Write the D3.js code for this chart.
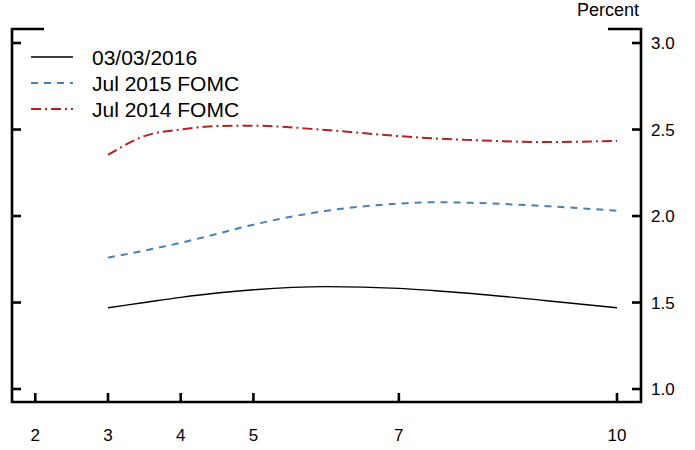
<!DOCTYPE html>
<html>
<head>
<meta charset="utf-8">
<script src="https://d3js.org/d3.v7.min.js"></script>
<style>
    body { margin: 0; background: #fff; }
    svg { font-family: "Liberation Sans", Arial, sans-serif; }
</style>
</head>
<body>
<svg id="chart"></svg>
<script>
// years ahead on the x axis
const years = [3, 3.5, 4, 4.5, 5, 6, 7, 7.5, 8, 9, 10];
const mar2016 = [1.47, 1.50, 1.53, 1.555, 1.574, 1.592, 1.582, 1.568, 1.552, 1.512, 1.47];
const jul2015 = [1.76, 1.80, 1.845, 1.897, 1.95, 2.03, 2.072, 2.08, 2.076, 2.058, 2.03];
const jul2014 = [2.353, 2.462, 2.50, 2.52, 2.522, 2.497, 2.462, 2.448, 2.439, 2.428, 2.434];
const seriesNames = ["03/03/2016", "Jul 2015 FOMC", "Jul 2014 FOMC"];
const xTicks = [2, 3, 4, 5, 7, 10];
const yTicks = [1.0, 1.5, 2.0, 2.5, 3.0];

const width = 695, height = 450;
const plot = { left: 12, right: 641, top: 29, bottom: 402 };

const svg = d3.select("#chart")
    .attr("width", width)
    .attr("height", height);

const x = d3.scaleLinear().domain([1.68, 10.33]).range([plot.left, plot.right]);
const y = d3.scaleLinear().domain([0.925, 3.081]).range([plot.bottom, plot.top]);

const styles = [
    { color: "#000000", width: 1.4, dash: null },
    { color: "#4682b4", width: 2, dash: "7,6" },
    { color: "#b22222", width: 2, dash: "10,4,2,4" }
];
const series = [mar2016, jul2015, jul2014];

const line = d3.line()
    .x((d, i) => x(years[i]))
    .y(d => y(d))
    .curve(d3.curveMonotoneX);

series.forEach((s, k) => {
    svg.append("path")
        .attr("d", line(s))
        .attr("fill", "none")
        .attr("stroke", styles[k].color)
        .attr("stroke-width", styles[k].width)
        .attr("stroke-dasharray", styles[k].dash);
});

// frame
const frame = svg.append("g").attr("stroke", "#000").attr("stroke-width", 2.6).attr("fill", "none");
frame.append("path").attr("d", `M${plot.left + 32},${plot.top}H${plot.left}V${plot.bottom}H${plot.right}V${plot.top}H${plot.right - 33}`);

// ticks
yTicks.forEach(t => {
    frame.append("line").attr("x1", plot.left).attr("x2", plot.left + 9).attr("y1", y(t)).attr("y2", y(t));
    frame.append("line").attr("x1", plot.right).attr("x2", plot.right - 9).attr("y1", y(t)).attr("y2", y(t));
});
xTicks.forEach(t => {
    frame.append("line").attr("x1", x(t)).attr("x2", x(t)).attr("y1", plot.bottom).attr("y2", plot.bottom - 9);
});

// tick labels
svg.append("g").selectAll("text")
    .data(yTicks)
    .join("text")
    .attr("x", plot.right + 10)
    .attr("y", d => y(d) + 6)
    .attr("font-size", 17)
    .text(d => d.toFixed(1));

svg.append("g").selectAll("text")
    .data(xTicks)
    .join("text")
    .attr("x", d => x(d))
    .attr("y", 441)
    .attr("text-anchor", "middle")
    .attr("font-size", 17)
    .text(d => d);

svg.append("text")
    .attr("x", 639)
    .attr("y", 16)
    .attr("text-anchor", "end")
    .attr("font-size", 18)
    .text("Percent");

// legend
const legend = svg.append("g");
seriesNames.forEach((name, k) => {
    const ly = 57 + k * 26;
    legend.append("line")
        .attr("x1", 31).attr("x2", 73)
        .attr("y1", ly).attr("y2", ly)
        .attr("stroke", styles[k].color)
        .attr("stroke-width", styles[k].width)
        .attr("stroke-dasharray", styles[k].dash);
    legend.append("text")
        .attr("x", 92)
        .attr("y", ly + 7.5)
        .attr("font-size", 21)
        .text(name);
});
</script>
</body>
</html>
